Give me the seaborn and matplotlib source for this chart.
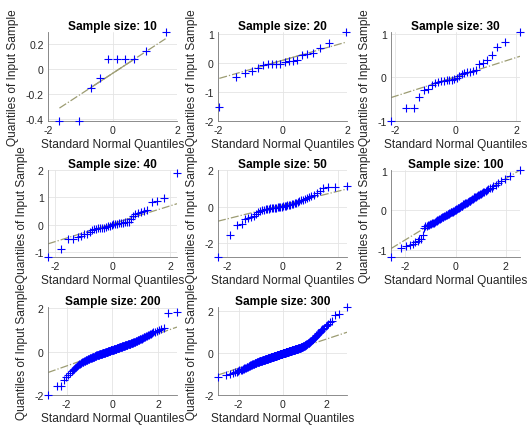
import numpy as np
import pandas as pd
import matplotlib
matplotlib.use("Agg")
import matplotlib.pyplot as plt
import seaborn as sns
from statistics import NormalDist

# ---------------------------------------------------------------------------
# Sorted sample values for each normal probability plot
# ---------------------------------------------------------------------------
sample_sizes = [10, 20, 30, 40, 50, 100, 200, 300]

sample_10 = [-0.42, -0.42, -0.15, -0.07, 0.08, 0.08, 0.08, 0.08, 0.15, 0.30]

sample_20 = [-1.52, -0.47, -0.35, -0.27, -0.18, -0.05, -0.04, -0.03, -0.03, -0.02,
             0.05, 0.07, 0.09, 0.10, 0.30, 0.33, 0.36, 0.52, 0.70, 1.08]

sample_30 = [-1.00, -0.70, -0.70, -0.45, -0.30, -0.27, -0.17, -0.14, -0.11, -0.09,
             -0.08, -0.07, -0.06, -0.05, -0.03, -0.01, 0.03, 0.08, 0.11, 0.12,
             0.13, 0.14, 0.16, 0.30, 0.34, 0.40, 0.52, 0.70, 0.82, 1.04]

sample_40 = [-1.17, -0.88, -0.53, -0.50, -0.44, -0.40, -0.35, -0.32, -0.27, -0.20,
             -0.16, -0.15, -0.13, -0.12, -0.11, -0.10, -0.08, -0.05, -0.03, -0.02,
             0.02, 0.04, 0.05, 0.06, 0.07, 0.08, 0.09, 0.10, 0.12, 0.20,
             0.32, 0.40, 0.45, 0.47, 0.50, 0.55, 0.82, 0.86, 0.98, 1.90]

sample_50 = [-2.75, -1.55, -1.00, -0.95, -0.68, -0.62, -0.58, -0.50, -0.40, -0.32,
             -0.26, -0.21, -0.17, -0.15, -0.13, -0.12, -0.10, -0.09, -0.08, -0.06,
             -0.05, -0.04, -0.03, -0.02, -0.01, 0.01, 0.03, 0.05, 0.07, 0.09,
             0.11, 0.13, 0.15, 0.18, 0.21, 0.25, 0.29, 0.34, 0.38, 0.42,
             0.47, 0.52, 0.58, 0.66, 0.72, 0.84, 1.02, 1.05, 1.06, 1.12]

sample_100 = [-1.18, -0.97, -0.91, -0.88, -0.86, -0.80, -0.77, -0.74, -0.72, -0.62,
              -0.45, -0.40, -0.39, -0.38, -0.37, -0.36, -0.35, -0.33, -0.32, -0.31,
              -0.30, -0.28, -0.27, -0.25, -0.24, -0.23, -0.21, -0.20, -0.19, -0.18,
              -0.17, -0.16, -0.15, -0.14, -0.13, -0.12, -0.11, -0.10, -0.09, -0.08,
              -0.07, -0.06, -0.05, -0.045, -0.04, -0.03, -0.02, -0.01, 0.00, 0.01,
              0.02, 0.03, 0.04, 0.05, 0.06, 0.07, 0.08, 0.09, 0.10, 0.11,
              0.12, 0.13, 0.15, 0.16, 0.17, 0.18, 0.19, 0.20, 0.21, 0.22,
              0.23, 0.24, 0.25, 0.26, 0.28, 0.30, 0.31, 0.33, 0.34, 0.35,
              0.37, 0.38, 0.40, 0.41, 0.43, 0.45, 0.47, 0.48, 0.50, 0.52,
              0.55, 0.57, 0.58, 0.62, 0.66, 0.70, 0.74, 0.80, 0.88, 1.03]

sample_200 = [-1.99, -1.60, -1.58, -1.30, -1.18, -1.08, -0.98, -0.90, -0.84, -0.79,
              -0.74, -0.70, -0.66, -0.62, -0.59, -0.56, -0.53, -0.51, -0.49, -0.47,
              -0.46, -0.44, -0.43, -0.42, -0.41, -0.40, -0.38, -0.37, -0.36, -0.35,
              -0.34, -0.33, -0.32, -0.31, -0.30, -0.29, -0.28, -0.27, -0.26, -0.255,
              -0.25, -0.24, -0.23, -0.22, -0.21, -0.205, -0.20, -0.19, -0.18, -0.175,
              -0.165, -0.16, -0.155, -0.15, -0.145, -0.14, -0.135, -0.13, -0.125, -0.12,
              -0.115, -0.11, -0.105, -0.10, -0.095, -0.09, -0.085, -0.08, -0.075, -0.07,
              -0.065, -0.06, -0.055, -0.05, -0.045, -0.04, -0.035, -0.03, -0.025, -0.02,
              -0.015, -0.01, -0.005, 0.00, 0.005, 0.01, 0.015, 0.02, 0.025, 0.03,
              0.035, 0.04, 0.045, 0.05, 0.05, 0.055, 0.06, 0.065, 0.07, 0.07,
              0.075, 0.08, 0.085, 0.09, 0.095, 0.10, 0.105, 0.11, 0.115, 0.12,
              0.125, 0.13, 0.135, 0.14, 0.145, 0.15, 0.155, 0.16, 0.165, 0.17,
              0.175, 0.18, 0.185, 0.19, 0.195, 0.20, 0.205, 0.21, 0.215, 0.22,
              0.225, 0.23, 0.235, 0.24, 0.245, 0.25, 0.255, 0.26, 0.265, 0.27,
              0.275, 0.28, 0.285, 0.29, 0.295, 0.30, 0.31, 0.315, 0.32, 0.33,
              0.335, 0.34, 0.345, 0.35, 0.36, 0.365, 0.37, 0.38, 0.385, 0.39,
              0.40, 0.41, 0.415, 0.42, 0.43, 0.44, 0.45, 0.46, 0.47, 0.48,
              0.49, 0.50, 0.51, 0.52, 0.53, 0.545, 0.56, 0.57, 0.585, 0.60,
              0.62, 0.635, 0.65, 0.67, 0.69, 0.71, 0.73, 0.75, 0.78, 0.80,
              0.83, 0.86, 0.89, 0.92, 0.95, 0.99, 1.04, 1.10, 1.78, 1.83]

sample_300 = [-1.13, -1.05, -1.00, -0.95, -0.92, -0.89, -0.86, -0.83, -0.81, -0.79,
              -0.76, -0.74, -0.72, -0.70, -0.69, -0.67, -0.66, -0.64, -0.63, -0.61,
              -0.60, -0.59, -0.57, -0.56, -0.55, -0.54, -0.53, -0.52, -0.51, -0.50,
              -0.49, -0.48, -0.47, -0.465, -0.46, -0.45, -0.44, -0.435, -0.43, -0.42,
              -0.415, -0.41, -0.405, -0.40, -0.395, -0.39, -0.385, -0.38, -0.375, -0.37,
              -0.365, -0.36, -0.355, -0.35, -0.346, -0.342, -0.338, -0.333, -0.329, -0.325,
              -0.32, -0.316, -0.311, -0.307, -0.303, -0.299, -0.295, -0.29, -0.286, -0.282,
              -0.278, -0.274, -0.27, -0.266, -0.262, -0.258, -0.255, -0.251, -0.247, -0.244,
              -0.24, -0.236, -0.233, -0.229, -0.226, -0.222, -0.219, -0.215, -0.212, -0.208,
              -0.205, -0.202, -0.198, -0.195, -0.192, -0.188, -0.185, -0.182, -0.178, -0.175,
              -0.172, -0.168, -0.165, -0.162, -0.159, -0.156, -0.152, -0.149, -0.146, -0.143,
              -0.14, -0.137, -0.134, -0.13, -0.127, -0.124, -0.121, -0.118, -0.115, -0.112,
              -0.109, -0.105, -0.102, -0.099, -0.096, -0.093, -0.09, -0.087, -0.084, -0.081,
              -0.078, -0.075, -0.072, -0.069, -0.066, -0.063, -0.06, -0.057, -0.054, -0.051,
              -0.048, -0.045, -0.042, -0.039, -0.036, -0.033, -0.03, -0.027, -0.024, -0.021,
              -0.019, -0.016, -0.013, -0.010, -0.007, -0.004, -0.002, 0.001, 0.004, 0.007,
              0.010, 0.013, 0.016, 0.018, 0.021, 0.024, 0.027, 0.030, 0.033, 0.036,
              0.038, 0.041, 0.044, 0.047, 0.050, 0.053, 0.056, 0.059, 0.062, 0.065,
              0.068, 0.070, 0.074, 0.077, 0.079, 0.082, 0.085, 0.088, 0.092, 0.095,
              0.097, 0.100, 0.103, 0.106, 0.110, 0.113, 0.116, 0.119, 0.122, 0.125,
              0.128, 0.131, 0.134, 0.137, 0.141, 0.144, 0.147, 0.150, 0.153, 0.156,
              0.160, 0.163, 0.166, 0.170, 0.173, 0.177, 0.180, 0.183, 0.187, 0.190,
              0.194, 0.197, 0.201, 0.204, 0.207, 0.211, 0.215, 0.218, 0.222, 0.226,
              0.230, 0.234, 0.238, 0.243, 0.247, 0.252, 0.256, 0.261, 0.266, 0.271,
              0.276, 0.281, 0.286, 0.292, 0.297, 0.303, 0.309, 0.315, 0.321, 0.327,
              0.335, 0.345, 0.36, 0.37, 0.38, 0.39, 0.40, 0.41, 0.42, 0.43,
              0.44, 0.45, 0.465, 0.48, 0.49, 0.50, 0.52, 0.53, 0.55, 0.56,
              0.58, 0.60, 0.62, 0.64, 0.655, 0.675, 0.70, 0.73, 0.76, 0.79,
              0.82, 0.85, 0.88, 0.92, 0.95, 0.98, 1.02, 1.05, 1.09, 1.13,
              1.17, 1.22, 1.27, 1.32, 1.40, 1.48, 1.55, 1.83, 1.88, 2.20]

samples = [sample_10, sample_20, sample_30, sample_40,
           sample_50, sample_100, sample_200, sample_300]

x_ticks = [-2, 0, 2]
y_ticks = [[-0.4, -0.2, 0, 0.2], [-2, -1, 0, 1], [-1, 0, 1], [-1, 0, 1, 2],
           [-2, 0, 2], [-1, 0, 1], [-2, 0, 2], [-2, 0, 2]]

# ---------------------------------------------------------------------------
# Axis limits and panel geometry (pixels on a 529 x 431 canvas)
# ---------------------------------------------------------------------------
x_limits = [(-2.0, 2.0), (-2.0, 2.0), (-2.128, 2.128), (-2.241, 2.241),
            (-2.326, 2.326), (-2.576, 2.576), (-2.807, 2.807), (-2.935, 2.935)]
y_limits = [(-0.42, 0.30), (-2.0, 1.08), (-1.0, 1.04), (-1.17, 2.0),
            (-2.75, 2.0), (-1.19, 1.03), (-2.0, 2.05), (-2.0, 2.2)]

W, H = 529, 431
col_left = [48, 218, 391]
col_width = 129
row_top = [33, 171, 308]
row_height = [89, 87, 88]

MARKER_BLUE = "#0000ff"
REF_COLOR = "#9c9c72"
SPINE_COLOR = "#7a7a7a"
TEXT_COLOR = "#262626"

sns.set_style("white")
plt.rcParams["font.family"] = ["Liberation Sans", "DejaVu Sans"]
plt.rcParams["axes.unicode_minus"] = False

nd = NormalDist()
z_q1, z_q3 = nd.inv_cdf(0.25), nd.inv_cdf(0.75)

fig = plt.figure(figsize=(W / 100, H / 100), dpi=100)
fig.patch.set_facecolor("white")

for k, (n, values) in enumerate(zip(sample_sizes, samples)):
    assert len(values) == n
    row, col = divmod(k, 3)
    rect = [col_left[col] / W,
            1 - (row_top[row] + row_height[row]) / H,
            col_width / W,
            row_height[row] / H]
    ax = fig.add_axes(rect)

    # theoretical quantiles at plotting positions (i - 0.5) / n
    theo = np.array([nd.inv_cdf((i - 0.5) / n) for i in range(1, n + 1)])
    ys = np.sort(np.asarray(values, dtype=float))
    df = pd.DataFrame({"theoretical": theo, "sample": ys})

    # reference line through the first and third quartiles
    q1, q3 = np.percentile(ys, [25, 75], method="hazen")
    slope = (q3 - q1) / (z_q3 - z_q1)
    icpt = q1 - slope * z_q1
    ends = pd.DataFrame({"x": [theo.min(), theo.max()]})
    ends["y"] = icpt + slope * ends["x"]
    mid = pd.DataFrame({"x": [z_q1, z_q3], "y": [q1, q3]})

    sns.lineplot(data=ends, x="x", y="y", ax=ax, color=REF_COLOR,
                 linestyle="-.", linewidth=0.9, zorder=2)
    sns.lineplot(data=mid, x="x", y="y", ax=ax, color=REF_COLOR,
                 linestyle="-", linewidth=0.9, zorder=2)
    sns.scatterplot(data=df, x="theoretical", y="sample", ax=ax,
                    marker="+", color=MARKER_BLUE, s=30, linewidth=0.8,
                    clip_on=False, zorder=3)

    ax.set_xlim(*x_limits[k])
    ax.set_ylim(*y_limits[k])
    ax.set_xticks(x_ticks)
    ax.set_xticklabels([f"{t:g}" for t in x_ticks])
    ax.set_yticks(y_ticks[k])
    ax.set_yticklabels([f"{t:g}" for t in y_ticks[k]])

    ax.grid(True, color="#e4e4e4", linewidth=0.6)
    ax.set_axisbelow(True)
    for side in ("top", "right"):
        ax.spines[side].set_visible(False)
    for side in ("left", "bottom"):
        ax.spines[side].set_color(SPINE_COLOR)
        ax.spines[side].set_linewidth(0.6)
    ax.tick_params(direction="in", length=2.5, width=0.5, color=SPINE_COLOR,
                   labelcolor=TEXT_COLOR, labelsize=7.6, pad=3)

    ax.set_title(f"Sample size: {n}", fontsize=8.6, fontweight="bold",
                 color="black", pad=2.5)
    ax.set_xlabel("Standard Normal Quantiles", fontsize=8.6,
                  color=TEXT_COLOR, labelpad=2)
    ax.set_ylabel("Quantiles of Input Sample", fontsize=8.6,
                  color=TEXT_COLOR, labelpad=5)

fig.savefig("out.png", dpi=100, facecolor="white")
